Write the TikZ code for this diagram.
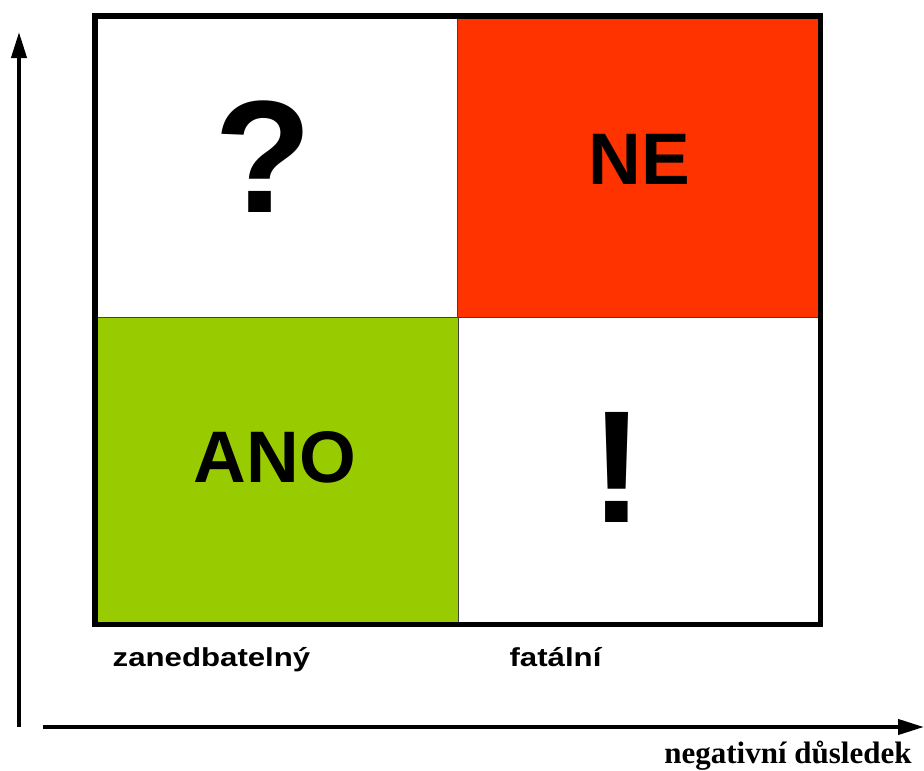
\documentclass[tikz,border=0pt]{standalone}
\usepackage{fontspec}
\setmainfont{Liberation Sans}
\newfontfamily\serifbold{Liberation Serif}
\usepackage{tikz}
\usetikzlibrary{arrows.meta}
\definecolor{nered}{HTML}{FF3300}
\definecolor{anogreen}{HTML}{99CC00}

\begin{document}
\begin{tikzpicture}[x=1pt,y=-1pt,
		cell/.style={draw=black!75, line width=1pt},
		axis/.style={line width=4pt, -{Triangle[length=26pt,width=15pt]}},
		bigtext/.style={font=\bfseries\fontsize{73}{73}\selectfont, inner sep=0pt},
		hugetext/.style={font=\bfseries\fontsize{160}{160}\selectfont, inner sep=0pt},
		axlabel/.style={font=\bfseries\fontsize{26}{26}\selectfont, xscale=1.2, inner sep=0pt, anchor=base}]
		\useasboundingbox (0,0) rectangle (924,771);

		%% The four fields
		\draw[cell] (97,18) rectangle (457,317);
		\draw[cell, fill=nered] (457,18) rectangle (820,317);
		\draw[cell, fill=anogreen] (97,317) rectangle (458,622);
		\draw[cell] (458,317) rectangle (820,622);
		\draw[line width=5.5pt] (94.75,15.75) rectangle (820.25,624.25);

		% Texts in the fields
		\node[hugetext] (quest) at (263,157) {?};
		\node[bigtext] (ne) at (639,159) {NE};
		\node[bigtext] (ano) at (275,457) {ANO};
		\node[hugetext] (excl) at (617,467) {!};

		%% Axes
		\coordinate (origin) at (19,727);
		\coordinate (ytip) at (19,32);
		\coordinate (xstart) at (43,727);
		\coordinate (xtip) at (924,727);
		\draw[axis] (origin) -- (ytip);
		\draw[axis] (xstart) -- (xtip);

		% Labels under the fields
		\node[axlabel] (low) at (211.5,666) {zanedbatelný};
		\node[axlabel] (high) at (555.5,666) {fatální};
		\node[font=\serifbold\bfseries\fontsize{31}{31}\selectfont, anchor=base, inner sep=0pt] (xlabel) at (788,763) {negativní důsledek};
	\end{tikzpicture}
\end{document}
